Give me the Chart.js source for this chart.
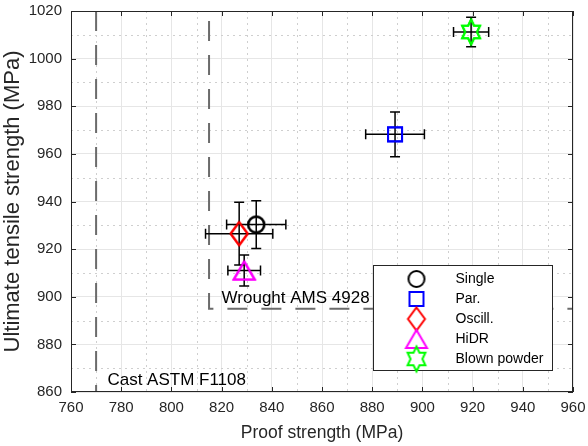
<!DOCTYPE html>
<html>
<head>
<meta charset="utf-8">
<script src="https://cdn.jsdelivr.net/npm/chart.js@4.4.0/dist/chart.umd.min.js"></script>
<style>
  html, body { margin: 0; padding: 0; background: #fff; }
  #wrap { width: 588px; height: 446px; }
</style>
</head>
<body>
<div id="wrap"><canvas id="strengthChart"></canvas></div>
<script>
// values
const seriesNames = ['Single', 'Par.', 'Oscill.', 'HiDR', 'Blown powder'];
const proofStrength = [833.8, 889.1, 827.0, 829.0, 919.4];   // MPa
const proofErr = [11.8, 11.7, 13.4, 6.5, 7.0];
const utsValues = [930.3, 968.2, 926.5, 911.0, 1011.2];      // MPa
const utsErr = [10.0, 9.4, 13.2, 6.5, 6.2];
const seriesColors = ['#000000', '#0000ff', '#ff0000', '#ff00ff', '#00ff00'];
const markerShapes = ['circle', 'square', 'diamond', 'triangle', 'hexagram'];

// axis ticks
const xTickValues = [760, 780, 800, 820, 840, 860, 880, 900, 920, 940, 960];
const yTickValues = [860, 880, 900, 920, 940, 960, 980, 1000, 1020];

// specification limit lines
const castLineX = [770, 770, 960];
const castLineY = [1020, 860, 860];
const castLabel = 'Cast ASTM F1108';
const wroughtLineX = [815, 815, 960];
const wroughtLineY = [1020, 895, 895];
const wroughtLabel = 'Wrought AMS 4928';

const FONT = '"Liberation Sans", Arial, Helvetica, sans-serif';
const AXIS_COL = '#262626';

function makeMarker(shape, color) {
  const c = document.createElement('canvas');
  c.width = 30; c.height = 30;
  const g = c.getContext('2d');
  g.strokeStyle = color;
  g.lineWidth = 2;
  g.translate(15, 15);
  g.beginPath();
  if (shape === 'circle') {
    g.arc(0, 0, 8, 0, Math.PI * 2);
  } else if (shape === 'square') {
    g.rect(-7, -7, 14, 14);
  } else if (shape === 'diamond') {
    g.moveTo(0, -11.5); g.lineTo(8.5, 0); g.lineTo(0, 11.5); g.lineTo(-8.5, 0); g.closePath();
  } else if (shape === 'triangle') {
    g.moveTo(0, -9); g.lineTo(10.5, 9); g.lineTo(-10.5, 9); g.closePath();
  } else {
    for (let k = 0; k < 12; k++) {
      const r = k % 2 === 0 ? 12.5 : 12.5 / Math.sqrt(3);
      const a = (-90 + k * 30) * Math.PI / 180;
      const px = r * Math.cos(a) * 0.82, py = r * Math.sin(a);
      if (k === 0) g.moveTo(px, py); else g.lineTo(px, py);
    }
    g.closePath();
  }
  g.stroke();
  return c;
}

const markers = markerShapes.map((s, i) => makeMarker(s, seriesColors[i]));

function xy(xs, ys) {
  return xs.map((x, i) => ({ x: x, y: ys[i] }));
}

const datasets = seriesNames.map((name, i) => ({
  label: name,
  data: [{ x: proofStrength[i], y: utsValues[i] }],
  pointStyle: markers[i],
  pointRadius: 10,
  showLine: false
}));

datasets.push({
  label: 'cast',
  data: xy(castLineX, castLineY),
  showLine: true,
  borderColor: '#6b6b6b',
  borderWidth: 2,
  borderDash: [20, 14],
  pointRadius: 0,
  fill: false
});
datasets.push({
  label: 'wrought',
  data: xy(wroughtLineX, wroughtLineY),
  showLine: true,
  borderColor: '#6b6b6b',
  borderWidth: 2,
  borderDash: [20, 14],
  borderDashOffset: 24,
  pointRadius: 0,
  fill: false
});

const extrasPlugin = {
  id: 'extras',
  beforeDatasetsDraw(chart) {
    const { ctx, chartArea: a, scales: { x, y } } = chart;
    ctx.save();
    // minor dotted grid
    ctx.strokeStyle = '#cfcfcf';
    ctx.lineWidth = 1;
    ctx.setLineDash([2, 4]);
    for (let v = 770; v < 960; v += 20) {
      const px = Math.round(x.getPixelForValue(v)) + 0.5;
      ctx.beginPath(); ctx.moveTo(px, a.top); ctx.lineTo(px, a.bottom); ctx.stroke();
    }
    for (let v = 870; v < 1020; v += 20) {
      const py = Math.round(y.getPixelForValue(v)) + 0.5;
      ctx.beginPath(); ctx.moveTo(a.left, py); ctx.lineTo(a.right, py); ctx.stroke();
    }
    ctx.restore();
  },
  afterDatasetsDraw(chart) {
    const { ctx, chartArea: a, scales: { x, y } } = chart;
    ctx.save();
    // error bars
    ctx.strokeStyle = '#000';
    ctx.lineWidth = 1.5;
    const cap = 5;
    proofStrength.forEach((pv, i) => {
      const cx = x.getPixelForValue(pv), cy = y.getPixelForValue(utsValues[i]);
      const x0 = x.getPixelForValue(pv - proofErr[i]), x1 = x.getPixelForValue(pv + proofErr[i]);
      const y0 = y.getPixelForValue(utsValues[i] - utsErr[i]), y1 = y.getPixelForValue(utsValues[i] + utsErr[i]);
      ctx.beginPath();
      ctx.moveTo(x0, cy); ctx.lineTo(x1, cy);
      ctx.moveTo(x0, cy - cap); ctx.lineTo(x0, cy + cap);
      ctx.moveTo(x1, cy - cap); ctx.lineTo(x1, cy + cap);
      ctx.moveTo(cx, y0); ctx.lineTo(cx, y1);
      ctx.moveTo(cx - cap, y0); ctx.lineTo(cx + cap, y0);
      ctx.moveTo(cx - cap, y1); ctx.lineTo(cx + cap, y1);
      ctx.stroke();
    });
    // markers again on top of bars
    markers.forEach((m, i) => {
      ctx.drawImage(m, x.getPixelForValue(proofStrength[i]) - 15, y.getPixelForValue(utsValues[i]) - 15);
    });

    // axes box + inward ticks
    ctx.strokeStyle = AXIS_COL;
    ctx.lineWidth = 1;
    ctx.strokeRect(Math.round(a.left) + 0.5, Math.round(a.top) + 0.5,
      Math.round(a.right - a.left) - 1, Math.round(a.bottom - a.top) - 1);
    ctx.beginPath();
    xTickValues.forEach(v => {
      const px = Math.round(x.getPixelForValue(v)) + 0.5;
      ctx.moveTo(px, a.bottom); ctx.lineTo(px, a.bottom - 5);
      ctx.moveTo(px, a.top); ctx.lineTo(px, a.top + 5);
    });
    yTickValues.forEach(v => {
      const py = Math.round(y.getPixelForValue(v)) + 0.5;
      ctx.moveTo(a.left, py); ctx.lineTo(a.left + 5, py);
      ctx.moveTo(a.right, py); ctx.lineTo(a.right - 5, py);
    });
    ctx.stroke();

    // limit labels
    ctx.fillStyle = '#000';
    ctx.font = '17px ' + FONT;
    ctx.textBaseline = 'middle';
    ctx.textAlign = 'left';
    ctx.fillText(castLabel, x.getPixelForValue(774.5), y.getPixelForValue(865));
    ctx.fillText(wroughtLabel, x.getPixelForValue(820), y.getPixelForValue(899.5));

    // legend box
    const lw = 179, lh = 105;
    const lx = Math.round(a.right - 21 - lw) + 0.5, ly = Math.round(a.bottom - 22 - lh) + 0.5;
    ctx.fillStyle = '#fff';
    ctx.fillRect(lx, ly, lw, lh);
    ctx.strokeStyle = AXIS_COL;
    ctx.strokeRect(lx, ly, lw, lh);
    ctx.font = '14px ' + FONT;
    ctx.fillStyle = '#000';
    seriesNames.forEach((name, i) => {
      const ry = ly + 13.5 + i * 20;
      ctx.drawImage(markers[i], lx + 43 - 15, ry - 15);
      ctx.fillText(name, lx + 82, ry);
    });
    ctx.restore();
  }
};

new Chart(document.getElementById('strengthChart').getContext('2d'), {
  type: 'scatter',
  data: { datasets: datasets },
  plugins: [extrasPlugin],
  options: {
    responsive: true,
    maintainAspectRatio: false,
    animation: false,
    events: [],
    layout: { padding: { left: 0, right: 15, top: 7, bottom: 0 } },
    plugins: { legend: { display: false }, tooltip: { enabled: false } },
    scales: {
      x: {
        type: 'linear',
        min: xTickValues[0],
        max: xTickValues[xTickValues.length - 1],
        afterFit(scale) { scale.height = 54; scale.paddingLeft = 0; scale.paddingRight = 0; },
        border: { display: false },
        grid: { color: '#e6e6e6', drawTicks: false },
        ticks: { stepSize: 20, padding: 7, color: AXIS_COL, font: { size: 15, family: FONT },
          callback: v => String(v) },
        title: { display: true, text: 'Proof strength (MPa)', color: AXIS_COL,
          font: { size: 17.5, family: FONT }, padding: { top: 0, bottom: 2 } }
      },
      y: {
        type: 'linear',
        min: yTickValues[0],
        max: yTickValues[yTickValues.length - 1],
        afterFit(scale) { scale.width = 71; scale.paddingTop = 0; scale.paddingBottom = 0; },
        border: { display: false },
        grid: { color: '#e6e6e6', drawTicks: false },
        ticks: { stepSize: 20, padding: 9, color: AXIS_COL, font: { size: 15, family: FONT },
          callback: v => String(v) },
        title: { display: true, text: 'Ultimate tensile strength (MPa)', color: AXIS_COL,
          font: { size: 22, family: FONT }, padding: { top: 0, bottom: 0 } }
      }
    }
  }
});
</script>
</body>
</html>
